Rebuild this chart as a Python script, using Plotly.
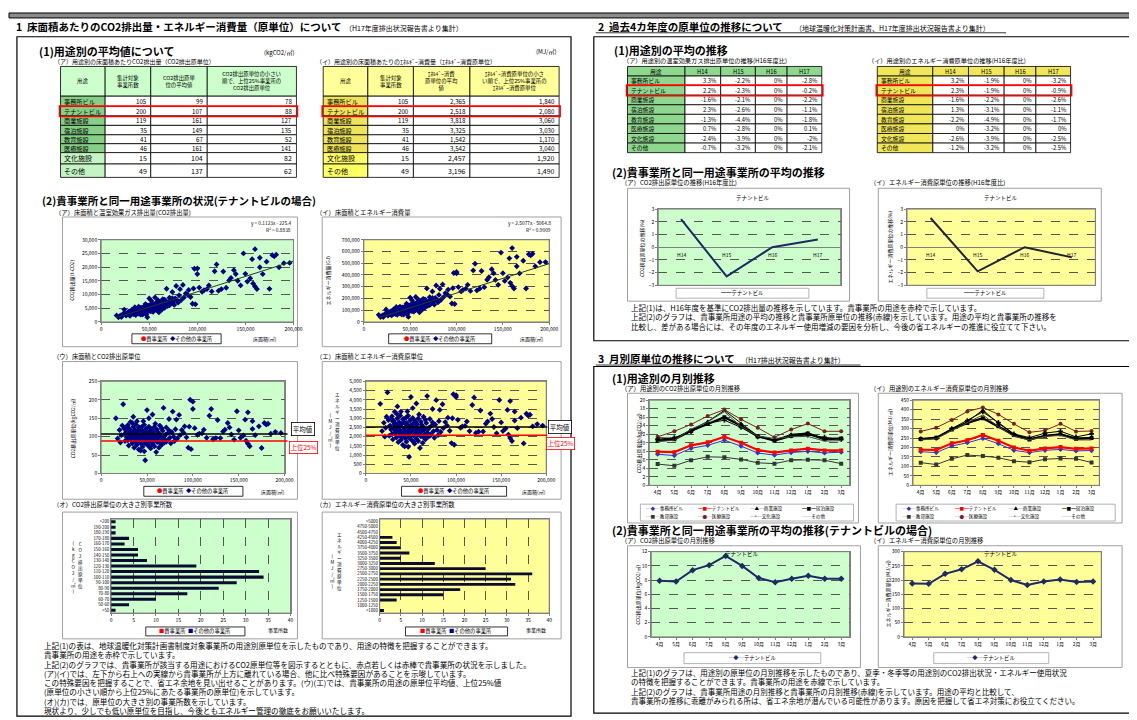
import plotly.graph_objects as go

W, H = 1137, 720
JP = "Noto Sans CJK JP"
GREEN_BG = "#ccffcc"
YELLOW_BG = "#ffff99"
NAVY = "#000080"
BAR = "#0b0b30"

# ---------------- data ----------------
USES = ["事務所ビル", "テナントビル", "商業施設", "宿泊施設", "教育施設", "医療施設", "文化施設", "その他"]
SITE_COUNTS = [105, 200, 119, 35, 41, 46, 15, 49]
CO2_UNIT_AVG = [99, 107, 161, 149, 67, 161, 104, 137]
CO2_UNIT_TOP25 = [78, 88, 127, 135, 52, 141, 82, 62]
EN_UNIT_AVG = [2365, 2518, 3818, 3325, 1542, 3542, 2457, 3196]
EN_UNIT_TOP25 = [1840, 2080, 3060, 3030, 1170, 3040, 1920, 1490]
TENANT = 1

YEARS = ["H14", "H15", "H16", "H17"]
CO2_TREND_TABLE = [[3.3, -2.2, 0, -2.8], [2.2, -2.3, 0, -0.2], [-1.6, -2.1, 0, -2.2], [2.3, -2.6, 0, -1.1],
                   [-1.3, -4.4, 0, -1.8], [0.7, -2.8, 0, 0.1], [-2.4, -3.9, 0, -2], [-0.7, -3.2, 0, -2.1]]
EN_TREND_TABLE = [[3.2, -1.9, 0, -3.2], [2.3, -1.9, 0, -0.9], [-1.6, -2.2, 0, -2.6], [1.3, -3.1, 0, -1.1],
                  [-2.2, -4.9, 0, -1.7], [0, -3.2, 0, 0], [-2.6, -3.9, 0, -2.5], [-1.2, -3.2, 0, -2.5]]
TENANT_CO2_TREND = [2.2, -2.3, 0.0, 0.6]
TENANT_EN_TREND = [2.3, -1.9, 0.0, -0.8]

# tenant buildings: floor area (thousand m2), CO2 unit (kgCO2/m2), energy unit (MJ/m2)
AREA_K = [16, 18, 20, 22, 24, 25, 26, 27, 28, 29, 30, 30, 31, 32, 32, 33, 34, 34, 35, 35,
          36, 36, 37, 37, 38, 38, 39, 39, 40, 40, 41, 41, 42, 42, 43, 43, 44, 44, 45, 45,
          46, 46, 47, 47, 48, 48, 49, 49, 50, 50, 51, 51, 52, 52, 53, 53, 54, 54, 55, 55,
          56, 56, 57, 57, 58, 58, 59, 60, 60, 61, 61, 62, 63, 63, 64, 65, 65, 66, 67, 68,
          68, 69, 70, 71, 72, 73, 74, 75, 76, 77, 78, 79, 80, 81, 82, 83, 85, 86, 88, 90,
          91, 93, 95, 96, 97, 98, 100, 100, 102, 105, 107, 110, 112, 115, 118, 120, 122, 125, 127, 130,
          133, 135, 138, 140, 142, 145, 148, 150, 152, 155, 157, 158, 160, 160, 162, 165, 165, 168, 172, 175,
          178, 180, 182, 185, 190, 196, 21, 23, 26, 28, 29, 31, 33, 34, 36, 38, 39, 40, 42, 44,
          45, 47, 48, 50, 52, 53, 55, 57, 59, 62, 64, 66, 69, 71, 74, 35, 43, 58, 46, 32]
CO2_UNIT = [150, 95, 118, 104, 188, 122, 88, 112, 98, 131, 76, 120, 105, 92, 140, 115, 82, 100, 127, 110,
            70, 95, 118, 86, 108, 133, 78, 99, 114, 92, 124, 65, 103, 88, 117, 96, 80, 107, 128, 72,
            98, 112, 90, 60, 36, 104, 121, 84, 95, 172, 109, 76, 100, 150, 87, 115, 68, 122, 93, 106,
            80, 160, 99, 113, 74, 126, 91, 102, 58, 85, 119, 96, 108, 70, 130, 89, 101, 78, 116, 94,
            178, 84, 105, 125, 90, 110, 148, 97, 82, 112, 168, 100, 88, 120, 146, 95, 159, 104, 118, 110,
            128, 98, 70, 127, 200, 66, 195, 175, 123, 105, 108, 109, 119, 97, 157, 175, 93, 96, 145, 96,
            114, 119, 137, 125, 106, 92, 169, 117, 97, 103, 146, 89, 166, 81, 74, 142, 121, 104, 128, 69,
            137, 133, 135, 108, 113, 110, 84, 130, 108, 126, 90, 121, 96, 137, 103, 92, 142, 85, 125, 94,
            116, 132, 81, 111, 127, 73, 118, 88, 135, 111, 83, 123, 101, 86, 117, 154, 62, 103, 142, 112]
EN_UNIT = [3780, 2300, 2750, 2480, 4400, 2900, 2050, 2600, 2380, 3100, 1850, 2820, 2450, 2150, 3350, 2700, 1950, 2330, 3000, 2600,
           1700, 2250, 2780, 2050, 2550, 3150, 1820, 2300, 2700, 2180, 2950, 1550, 2400, 2080, 2760, 2250, 1900, 2520, 3050, 1720,
           2300, 2650, 2120, 1450, 900, 2450, 2870, 1980, 2230, 4150, 2580, 1800, 2360, 3550, 2060, 2720, 1620, 2880, 2200, 2500,
           1900, 3800, 2340, 2670, 1760, 2980, 2150, 2410, 1380, 2010, 2810, 2270, 2560, 1660, 3080, 2100, 2390, 1850, 2740, 2220,
           4200, 1990, 2480, 2960, 2130, 2600, 3500, 2290, 1940, 2650, 3980, 2360, 2080, 2840, 3450, 2250, 3760, 2460, 2790, 2600,
           3030, 2320, 1650, 3000, 4300, 1560, 4250, 4150, 2910, 2480, 2550, 2580, 2820, 2300, 3720, 4130, 2200, 2270, 3420, 2280,
           2700, 2820, 3250, 2960, 2520, 2180, 3990, 2770, 2300, 2440, 3450, 2110, 3930, 1920, 1760, 3360, 2870, 2460, 3030, 1630,
           3240, 3150, 3190, 2560, 2680, 2600, 2000, 3080, 2560, 2990, 2140, 2860, 2280, 3250, 2440, 2180, 3360, 2010, 2960, 2230,
           2750, 3130, 1920, 2630, 3010, 1730, 2790, 2080, 3200, 2630, 1970, 2910, 2400, 2040, 2770, 3640, 1470, 2430, 3370, 2650]
TREND_CO2 = (0.1123, -225.4)
TREND_EN = (2.5077, -5064.8)

CO2_BINS = [">200", "190-200", "180-190", "170-180", "160-170", "150-160", "140-150", "130-140", "120-130",
            "110-120", "100-110", "90-100", "80-90", "70-80", "60-70", "50-60", "<50"]
CO2_COUNTS = [1, 1, 1, 4, 3, 6, 6, 8, 19, 33, 34, 28, 24, 17, 10, 4, 1]
EN_BINS = [">5000", "4750-5000", "4500-4750", "4250-4500", "4000-4250", "3750-4000", "3500-3750", "3250-3500",
           "3000-3250", "2750-3000", "2500-2750", "2250-2500", "2000-2250", "1750-2000", "1500-1750",
           "1250-1500", "1000-1250", "<1000"]
EN_COUNTS = [0, 0, 0, 3, 4, 5, 7, 5, 13, 25, 36, 31, 32, 19, 15, 4, 0, 1]

MONTHS = ["4月", "5月", "6月", "7月", "8月", "9月", "10月", "11月", "12月", "1月", "2月", "3月"]
CO2_MONTHLY = {
    "事務所ビル": [7.3, 7.0, 8.7, 9.4, 10.6, 9.2, 7.6, 7.1, 7.7, 8.0, 7.6, 7.8],
    "テナントビル": [7.9, 7.8, 9.4, 10.1, 11.4, 10.0, 8.3, 7.7, 8.2, 8.6, 8.2, 8.2],
    "商業施設": [11.2, 11.0, 13.0, 15.0, 17.6, 14.5, 11.6, 10.6, 12.0, 12.3, 11.0, 11.1],
    "宿泊施設": [10.5, 10.8, 12.8, 14.4, 16.0, 14.0, 11.5, 10.5, 11.6, 12.2, 10.8, 11.0],
    "教育施設": [5.0, 4.6, 5.9, 6.7, 6.6, 6.1, 5.3, 5.1, 5.9, 6.0, 5.9, 5.1],
    "医療施設": [11.4, 12.7, 14.3, 16.3, 17.8, 15.5, 13.5, 11.3, 13.1, 14.5, 12.7, 12.7],
    "文化施設": [10.8, 11.2, 12.6, 14.6, 15.3, 13.6, 11.4, 10.7, 11.6, 11.8, 11.3, 10.8],
    "その他": [10.3, 10.6, 13.2, 14.9, 17.3, 13.8, 11.6, 11.0, 11.4, 11.5, 10.4, 10.5],
}
EN_MONTHLY = {
    "事務所ビル": [178, 173, 208, 225, 248, 220, 185, 173, 185, 190, 182, 184],
    "テナントビル": [188, 187, 222, 238, 266, 236, 200, 183, 195, 202, 193, 195],
    "商業施設": [242, 248, 296, 336, 398, 328, 270, 246, 262, 272, 250, 252],
    "宿泊施設": [245, 252, 295, 330, 355, 312, 266, 242, 262, 270, 246, 250],
    "教育施設": [120, 110, 140, 160, 155, 146, 128, 122, 138, 142, 140, 121],
    "医療施設": [285, 305, 345, 390, 412, 375, 325, 280, 290, 325, 285, 287],
    "文化施設": [246, 250, 300, 342, 388, 332, 272, 252, 276, 286, 256, 272],
    "その他": [240, 246, 290, 330, 372, 310, 258, 240, 258, 264, 240, 240],
}
SERIES_STYLE = {
    "事務所ビル": ("#3333cc", "diamond", 1.0, "◆"),
    "テナントビル": ("#ff0000", "square", 2.2, "■"),
    "商業施設": ("#000000", "triangle-up", 1.0, "▲"),
    "宿泊施設": ("#000000", "square", 2.2, "■"),
    "教育施設": ("#333333", "square", 1.0, "■"),
    "医療施設": ("#7a1f1f", "circle", 1.0, "●"),
    "文化施設": ("#000000", "cross", 1.0, "+"),
    "その他": ("#444444", None, 1.0, ""),
}

# ---------------- helpers ----------------
ann, shp, axes, traces = [], [], {}, []


def px(x):
    return x / W


def py(y):
    return 1 - y / H


def T(x, y, text, size=7, color="black", xa="left", ya="middle", bold=False, angle=0, **kw):
    ann.append(dict(x=px(x), y=py(y), xref="paper", yref="paper",
                    text=("<b>%s</b>" % text) if bold else text, showarrow=False,
                    font=dict(family=JP, size=size, color=color), xanchor=xa, yanchor=ya,
                    textangle=angle, **kw))


def R(x0, y0, x1, y1, color="black", width=1, fill="rgba(0,0,0,0)", layer="above"):
    shp.append(dict(type="rect", xref="paper", yref="paper", x0=px(x0), x1=px(x1), y0=py(y1), y1=py(y0),
                    line=dict(color=color, width=width), fillcolor=fill, layer=layer))


def L(x0, y0, x1, y1, color="black", width=1):
    shp.append(dict(type="line", xref="paper", yref="paper", x0=px(x0), x1=px(x1), y0=py(y0), y1=py(y1),
                    line=dict(color=color, width=width)))


def stack(x, y, text, size=5):
    T(x, y, "<br>".join(list(text)), size=size, xa="center")


def names(i):
    return ("x" if i == 1 else "x%d" % i), ("y" if i == 1 else "y%d" % i)


def make_axes(i, frame, box, bg, xopt, yopt):
    R(*frame, color="#a0a0a0", width=1, fill="white", layer="below")
    x0, y0, x1, y1 = box
    R(x0, y0, x1, y1, color="#808080", width=1, fill=bg, layer="below")
    xn, yn = names(i)
    base = dict(showline=True, mirror=True, linecolor="#808080", linewidth=1, ticks="outside", ticklen=2,
                tickcolor="#808080", tickfont=dict(family=JP, size=5, color="black"), zeroline=False,
                showgrid=False, fixedrange=True)
    xa = dict(base)
    xa.update(domain=[px(x0), px(x1)], anchor=yn)
    xa.update(xopt)
    ya = dict(base)
    ya.update(domain=[py(y1), py(y0)], anchor=xn)
    ya.update(yopt)
    axes["xaxis" if i == 1 else "xaxis%d" % i] = xa
    axes["yaxis" if i == 1 else "yaxis%d" % i] = ya


GRID = dict(showgrid=True, gridcolor="#555555", griddash="dash", gridwidth=0.6)


def table(xe, ye, rows, fills, aligns, sizes):
    for r in range(len(rows)):
        for c in range(len(xe) - 1):
            R(xe[c], ye[r], xe[c + 1], ye[r + 1], color="black", width=0.8, fill=fills[r][c])
            al = aligns[r][c]
            if al == "right":
                x, xa = xe[c + 1] - 2, "right"
            elif al == "left":
                x, xa = xe[c] + 1.5, "left"
            else:
                x, xa = (xe[c] + xe[c + 1]) / 2, "center"
            T(x, (ye[r] + ye[r + 1]) / 2, rows[r][c], size=sizes[r], xa=xa)


LEG_SCATTER = '<span style="color:#ff0000">●</span>貴事業所  <span style="color:#000080">◆</span>その他の事業所'
LEG_BAR = '<span style="color:#ff0000">■</span>貴事業所  <span style="color:#000080">■</span>その他の事業所'

# ---------------- page frame ----------------
R(0, 1, 1137, 6, color="black", width=1, fill="#8c8c8c")
T(5, 15, "1  床面積あたりのCO2排出量・エネルギー消費量（原単位）について", size=10.5, bold=True)
T(337, 16, "（H17年度排出状況報告書より集計）", size=7)
R(8, 25, 567, 711, color="black", width=1.2)
T(592, 15, "2  過去4カ年度の原単位の推移について", size=10.5, bold=True)
T(791, 16, "（地球温暖化対策計画書、H17年度排出状況報告書より集計）", size=7)
L(592, 21, 1006, 21, width=0.8)
R(590, 25, 1140, 332, color="black", width=1.2)
T(592, 350, "3  月別原単位の推移について", size=10.5, bold=True)
T(736, 351, "（H17排出状況報告書より集計）", size=7)
L(592, 356.5, 859, 356.5, width=0.8)
R(590, 358, 1140, 708, color="black", width=1.2)

# ---------------- section 1 (1) tables ----------------
T(28, 39, "(1)用途別の平均値について", size=11, bold=True)
T(290, 41, "(kgCO2/㎡)", size=6, xa="right")
T(555, 40, "(MJ/㎡)", size=6, xa="right")
T(43, 49.5, "（ア）用途別の床面積あたりCO2排出量（CO2排出原単位）", size=6)
T(308, 49.5, "（イ）用途別の床面積あたりのｴﾈﾙｷﾞｰ消費量（ｴﾈﾙｷﾞｰ消費原単位）", size=6)

YE1 = [55, 85, 95.5, 105, 114.5, 124, 133, 142, 153.5, 167]
rows1 = [["用途", "集計対象<br>事業所数", "CO2排出原単<br>位の平均値", "CO2排出原単位の小さい<br>順で、上位25%事業所の<br>CO2排出原単位"]]
rows2 = [["用途", "集計対象<br>事業所数", "ｴﾈﾙｷﾞｰ消費<br>原単位の平均<br>値", "ｴﾈﾙｷﾞｰ消費原単位の小さ<br>い順で、上位25%事業所の<br>ｴﾈﾙｷﾞｰ消費原単位"]]
for k in range(len(USES)):
    rows1.append([USES[k], str(SITE_COUNTS[k]), str(CO2_UNIT_AVG[k]), str(CO2_UNIT_TOP25[k])])
    rows2.append([USES[k], str(SITE_COUNTS[k]), "{:,}".format(EN_UNIT_AVG[k]), "{:,}".format(EN_UNIT_TOP25[k])])
fills1 = [[GREEN_BG] * 4] + [[("#86d086" if k < 6 else "#c4f4c4"), "white", "white", "white"] for k in range(8)]
fills2 = [[YELLOW_BG] * 4] + [[("#eee35a" if k < 6 else "#ffff66"), "white", "white", "white"] for k in range(8)]
al = [["center"] * 4] + [["left", "right", "right", "right"] for _ in range(8)]
sz = [5.4] + [6.2] * 6 + [7, 7]
table([52, 97, 143, 200, 290], YE1, rows1, fills1, al, sz)
table([317, 362, 408, 465, 555], YE1, rows2, fills2, al, sz)
R(51, YE1[TENANT + 1] - 0.5, 291, YE1[TENANT + 2] + 0.5, color="red", width=1.6)
R(316, YE1[TENANT + 1] - 0.5, 556, YE1[TENANT + 2] + 0.5, color="red", width=1.6)

# ---------------- section 1 (2) charts ----------------
T(31, 190, "(2)貴事業所と同一用途事業所の状況(テナントビルの場合)", size=10.5, bold=True)
T(44, 202, "（ア）床面積と温室効果ガス排出量(CO2排出量)", size=6.3)
T(308, 202, "（イ）床面積とエネルギー消費量", size=6.3)

area = [a * 1000 for a in AREA_K]
co2 = [a * u / 1000 for a, u in zip(area, CO2_UNIT)]
energy = [a * u / 1000 for a, u in zip(area, EN_UNIT)]
xline = [min(area), 200000]

AREA_X = dict(range=[0, 200000], dtick=50000, tickformat=",d")

# chart 1
make_axes(1, (54, 207, 291, 338), (93, 230, 287, 313), GREEN_BG, AREA_X,
          dict(range=[0, 30000], dtick=5000, tickformat=",d", **GRID))
traces.append(go.Scatter(x=area, y=co2, mode="markers", xaxis="x", yaxis="y",
                         marker=dict(symbol="diamond", size=4.5, color=NAVY)))
traces.append(go.Scatter(x=xline, y=[TREND_CO2[0] * v + TREND_CO2[1] for v in xline], mode="lines",
                         xaxis="x", yaxis="y", line=dict(color="#1e3d1e", width=1)))
T(287, 213, "y = %.4fx - %.1f" % (TREND_CO2[0], -TREND_CO2[1]), size=4.8, xa="right")
T(287, 220, "R² = 0.8838", size=4.8, xa="right")
T(64, 271, "CO2排出量(t-CO2)", size=5, angle=-90, xa="center")
R(124, 325, 214, 335, color="black", width=0.8, fill="white")
T(169, 330, LEG_SCATTER, size=5.3, xa="center")
T(258, 330, "床面積(㎡)", size=5, xa="center")

# chart 2
make_axes(2, (316, 207, 557, 338), (358, 230, 545, 313), YELLOW_BG, AREA_X,
          dict(range=[0, 700000], dtick=100000, tickformat=",d", **GRID))
traces.append(go.Scatter(x=area, y=energy, mode="markers", xaxis="x2", yaxis="y2",
                         marker=dict(symbol="diamond", size=4.5, color=NAVY)))
traces.append(go.Scatter(x=xline, y=[TREND_EN[0] * v + TREND_EN[1] for v in xline], mode="lines",
                         xaxis="x2", yaxis="y2", line=dict(color="#1e3d1e", width=1)))
T(549, 213, "y = %.4fx - %.1f" % (TREND_EN[0], -TREND_EN[1]), size=4.8, xa="right")
T(549, 220, "R² = 0.9009", size=4.8, xa="right")
T(322, 271, "エネルギー消費量(GJ)", size=5, angle=-90, xa="center")
R(383, 325, 487, 335, color="black", width=0.8, fill="white")
T(435, 330, LEG_SCATTER, size=5.3, xa="center")
T(528, 330, "床面積(㎡)", size=5, xa="center")

# chart 3
T(42, 348, "（ウ）床面積とCO2排出原単位", size=6.3)
make_axes(3, (54, 353, 291, 492), (93, 373, 278, 466), GREEN_BG, AREA_X,
          dict(range=[0, 250], dtick=50, **GRID))
traces.append(go.Scatter(x=area, y=CO2_UNIT, mode="markers", xaxis="x3", yaxis="y3",
                         marker=dict(symbol="diamond", size=4.5, color=NAVY)))
shp.append(dict(type="line", xref="paper", yref="y3", x0=px(93), x1=px(281), y0=CO2_UNIT_AVG[TENANT],
                y1=CO2_UNIT_AVG[TENANT], line=dict(color="black", width=1.5)))
shp.append(dict(type="line", xref="paper", yref="y3", x0=px(93), x1=px(281), y0=CO2_UNIT_TOP25[TENANT],
                y1=CO2_UNIT_TOP25[TENANT], line=dict(color="red", width=1.5)))
T(297, 421, "平均値", size=6.5, xa="center", bordercolor="black", borderwidth=0.8, bgcolor="white", borderpad=1)
T(297, 440, "上位25%", size=6.3, color="red", xa="center", bordercolor="red", borderwidth=0.8, bgcolor="white", borderpad=1)
T(64, 420, "CO2排出原単位(kgCO2/㎡)", size=5, angle=-90, xa="center")
R(136, 479, 236, 489, color="black", width=0.8, fill="white")
T(186, 484, LEG_SCATTER, size=5.3, xa="center")
T(266, 485, "床面積(㎡)", size=5, xa="center")

# chart 4
T(308, 348, "（エ）床面積とエネルギー消費原単位", size=6.3)
make_axes(4, (316, 353, 557, 492), (360, 373, 542, 466), YELLOW_BG, AREA_X,
          dict(range=[0, 5000], dtick=500, tickformat=",d", **GRID))
traces.append(go.Scatter(x=area, y=EN_UNIT, mode="markers", xaxis="x4", yaxis="y4",
                         marker=dict(symbol="diamond", size=4.5, color=NAVY)))
shp.append(dict(type="line", xref="paper", yref="y4", x0=px(360), x1=px(543), y0=EN_UNIT_AVG[TENANT],
                y1=EN_UNIT_AVG[TENANT], line=dict(color="black", width=1.5)))
shp.append(dict(type="line", xref="paper", yref="y4", x0=px(360), x1=px(543), y0=EN_UNIT_TOP25[TENANT],
                y1=EN_UNIT_TOP25[TENANT], line=dict(color="red", width=1.5)))
T(556, 419, "平均値", size=6.5, xa="center", bordercolor="black", borderwidth=0.8, bgcolor="white", borderpad=1)
T(556, 436, "上位25%", size=6.3, color="red", xa="center", bordercolor="red", borderwidth=0.8, bgcolor="white", borderpad=1)
stack(331, 413, "エネルギー消費原単位", size=4.6)
stack(324, 422, "(MJ/㎡)", size=4.6)
R(396, 479, 502, 489, color="black", width=0.8, fill="white")
T(449, 484, LEG_SCATTER, size=5.3, xa="center")
T(530, 485, "床面積(㎡)", size=5, xa="center")

# chart 5 (histogram CO2)
T(42, 497, "（オ）CO2排出原単位の大きさ別事業所数", size=6.3)
make_axes(5, (54, 505, 291, 633), (103, 512, 284, 607), GREEN_BG,
          dict(range=[0, 40], dtick=5, **GRID),
          dict(type="category", categoryorder="array", categoryarray=CO2_BINS, autorange="reversed",
               tickfont=dict(family=JP, size=4.3, color="black"), ticks=""))
traces.append(go.Bar(y=CO2_BINS, x=CO2_COUNTS, orientation="h", xaxis="x5", yaxis="y5",
                     marker=dict(color=BAR, line=dict(width=0)), width=0.55))
stack(72, 558, "CO2排出原単位", size=4.6)
stack(65, 560, "(kgCO2/㎡)", size=4.6)
R(138, 621, 238, 630, color="black", width=0.8, fill="white")
T(188, 625.5, LEG_BAR, size=5.3, xa="center")
T(271, 624, "事業所数", size=5, xa="center")

# chart 6 (histogram energy)
T(308, 497, "（カ）エネルギー消費原単位の大きさ別事業所数", size=6.3)
make_axes(6, (316, 505, 557, 633), (374, 512, 545, 607), YELLOW_BG,
          dict(range=[0, 40], dtick=5, **GRID),
          dict(type="category", categoryorder="array", categoryarray=EN_BINS, autorange="reversed",
               tickfont=dict(family=JP, size=4.3, color="black"), ticks=""))
traces.append(go.Bar(y=EN_BINS, x=EN_COUNTS, orientation="h", xaxis="x6", yaxis="y6",
                     marker=dict(color=BAR, line=dict(width=0)), width=0.55))
stack(333, 554, "エネルギー消費原単位", size=4.6)
stack(326, 564, "(MJ/㎡)", size=4.6)
R(400, 621, 503, 630, color="black", width=0.8, fill="white")
T(451, 625.5, LEG_BAR, size=5.3, xa="center")
T(532, 624, "事業所数", size=5, xa="center")

# left explanation
LEFT_TEXT = [
    "上記(1)の表は、地球温暖化対策計画書制度対象事業所の用途別原単位を示したものであり、用途の特徴を把握することができます。",
    "貴事業所の用途を赤枠で示しています。",
    "上記(2)のグラフでは、貴事業所が該当する用途におけるCO2原単位等を図示するとともに、赤点若しくは赤棒で貴事業所の状況を示しました。",
    "(ア)(イ)では、左下から右上への実線から貴事業所が上方に離れている場合、他に比べ特殊要因があることを示唆しています。",
    "この特殊要因を把握することで、省エネ余地を見い出せることがあります。(ウ)(エ)では、貴事業所の用途の原単位平均値、上位25%値",
    "(原単位の小さい順から上位25%にあたる事業所の原単位)を示しています。",
    "(オ)(カ)では、原単位の大きさ別の事業所数を示しています。",
    "現状より、少しでも低い原単位を目指し、今後ともエネルギー管理の徹底をお願いいたします。",
]
for k, line in enumerate(LEFT_TEXT):
    T(33, 640 + k * 9.3, line, size=7.6)

# ---------------- section 2 ----------------
T(608, 38, "(1)用途別の平均の推移", size=11, bold=True)
T(617, 49, "（ア）用途別の温室効果ガス排出原単位の推移(H16年度比)", size=6.2)
T(865, 49, "（イ）用途別のエネルギー消費原単位の推移(H16年度比)", size=6.2)
YE2 = [55 + 9.67 * k for k in range(10)]


def pct(v):
    return "{:g}%".format(v)


rowsA = [["用途"] + YEARS] + [[USES[k]] + [pct(v) for v in CO2_TREND_TABLE[k]] for k in range(8)]
rowsB = [["用途"] + YEARS] + [[USES[k]] + [pct(v) for v in EN_TREND_TABLE[k]] for k in range(8)]
fillsA = [["#8fd68f"] * 5] + [["#8fd68f"] + ["white"] * 4 for _ in range(8)]
fillsB = [["#f0e65a"] * 5] + [["#f0e65a"] + ["white"] * 4 for _ in range(8)]
alB = [["center"] * 5] + [["left"] + ["right"] * 4 for _ in range(8)]
szB = [5.8] * 9
table([624, 682, 718, 753, 785, 820], YE2, rowsA, fillsA, alB, szB)
table([876, 932, 968, 1004, 1036, 1071], YE2, rowsB, fillsB, alB, szB)
R(623, YE2[TENANT + 1] - 0.5, 821, YE2[TENANT + 2] + 0.5, color="red", width=1.6)
R(875, YE2[TENANT + 1] - 0.5, 1072, YE2[TENANT + 2] + 0.5, color="red", width=1.6)

T(606, 162, "(2)貴事業所と同一用途事業所の平均の推移", size=11, bold=True)
T(615, 172, "（ア）CO2排出原単位の推移(H16年度比)", size=6.3)
T(867, 172, "（イ）エネルギー消費原単位の推移(H16年度比)", size=6.3)

TREND_Y = dict(range=[-3, 3], dtick=1, zeroline=True, zerolinecolor="#808080", zerolinewidth=1, **GRID)
TREND_X = dict(type="category", range=[-0.5, 3.5], showticklabels=False, ticks="")
make_axes(7, (624, 178, 848, 292), (655, 199, 839, 276), GREEN_BG, TREND_X, TREND_Y)
traces.append(go.Scatter(x=YEARS, y=TENANT_CO2_TREND, mode="lines", xaxis="x7", yaxis="y7",
                         line=dict(color="#1c2a66", width=2)))
make_axes(8, (877, 178, 1102, 292), (906, 199, 1096, 276), YELLOW_BG, TREND_X, TREND_Y)
traces.append(go.Scatter(x=YEARS, y=TENANT_EN_TREND, mode="lines", xaxis="x8", yaxis="y8",
                         line=dict(color="#222233", width=2)))
for i in (7, 8):
    for yr in YEARS:
        ann.append(dict(x=yr, y=-0.55, xref="x%d" % i, yref="y%d" % i, text=yr, showarrow=False,
                        font=dict(family=JP, size=5, color="black"), xanchor="center", yanchor="middle"))
T(751, 188, "テナントビル", size=5.5, xa="center")
T(1001, 188, "テナントビル", size=5.5, xa="center")
T(638, 238, "CO2排出原単位の推移(%)", size=5, angle=-90, xa="center")
T(889, 238, "エネルギー消費原単位の推移(%)", size=5, angle=-90, xa="center")
R(673, 279, 807, 289, color="#a0a0a0", width=0.8, fill="white")
T(740, 284, '<span style="color:#1c2a66">━━</span>テナントビル', size=5.3, xa="center")
R(926, 279, 1044, 289, color="#a0a0a0", width=0.8, fill="white")
T(985, 284, '<span style="color:#1c2a66">━━</span>テナントビル', size=5.3, xa="center")

RIGHT_TEXT_2 = [
    "上記(1)は、H16年度を基準にCO2排出量の推移を示しています。貴事業所の用途を赤枠で示しています。",
    "上記(2)のグラフは、貴事業所用途の平均の推移と貴事業所原単位の推移(赤線)を示しています。用途の平均と貴事業所の推移を",
    "比較し、差がある場合には、その年度のエネルギー使用増減の要因を分析し、今後の省エネルギーの推進に役立てて下さい。",
]
for k, line in enumerate(RIGHT_TEXT_2):
    T(626, 298 + k * 9.8, line, size=7.5)

# ---------------- section 3 ----------------
T(606, 370, "(1)用途別の月別推移", size=11, bold=True)
T(615, 380, "（ア）用途別のCO2排出原単位の月別推移", size=6.3)
T(867, 380, "（イ）用途別のエネルギー消費原単位の月別推移", size=6.3)
MX = dict(type="category", range=[-0.5, 11.5])
make_axes(9, (624, 385, 857, 516), (646, 392, 848, 478), GREEN_BG, MX,
          dict(range=[0, 20], dtick=2, **GRID))
make_axes(10, (877, 385, 1123, 516), (912, 392, 1100, 478), YELLOW_BG, MX,
          dict(range=[0, 450], dtick=50, **GRID))
order = [u for u in USES if u != "テナントビル"] + ["テナントビル"]
for i, data in ((9, CO2_MONTHLY), (10, EN_MONTHLY)):
    for u in order:
        c, sym, w, _ = SERIES_STYLE[u]
        mk = dict(symbol=sym, size=4, color=c) if sym else dict(size=1, color=c)
        traces.append(go.Scatter(x=MONTHS, y=data[u], mode="lines+markers" if sym else "lines",
                                 xaxis="x%d" % i, yaxis="y%d" % i, line=dict(color=c, width=w), marker=mk))
T(635, 435, "CO2排出原単位(kgCO2/㎡)", size=5, angle=-90, xa="center")
T(889, 435, "エネルギー消費原単位(MJ/㎡)", size=5, angle=-90, xa="center")
for (bx0, bx1) in ((637, 852), (895, 1116)):
    R(bx0, 497, bx1, 514, color="#a0a0a0", width=0.8, fill="white")
    step = (bx1 - bx0 - 6) / 4
    for k, u in enumerate(USES):
        c, sym, w, g = SERIES_STYLE[u]
        r, col = divmod(k, 4)
        glyph = ("━%s━" % g) if w > 1.5 else ("─%s─" % g)
        T(bx0 + 4 + col * step, 501.5 + r * 8, '<span style="color:%s">%s</span>%s' % (c, glyph, u), size=4.6)

T(606, 523, "(2)貴事業所と同一用途事業所の平均の推移(テナントビルの場合)", size=11, bold=True)
T(615, 534, "（ア）CO2排出原単位の月別推移", size=6.3)
T(867, 534, "（イ）エネルギー消費原単位の月別推移", size=6.3)
make_axes(11, (624, 539, 859, 662), (648, 545, 848, 631), GREEN_BG, MX,
          dict(range=[0, 12], dtick=2, **GRID))
make_axes(12, (877, 539, 1123, 662), (903, 545, 1102, 631), YELLOW_BG, MX,
          dict(range=[0, 300], dtick=50, **GRID))
traces.append(go.Scatter(x=MONTHS, y=CO2_MONTHLY["テナントビル"], mode="lines+markers", xaxis="x11", yaxis="y11",
                         line=dict(color="#1c2a66", width=2), marker=dict(symbol="diamond", size=5, color="#1c2a66")))
traces.append(go.Scatter(x=MONTHS, y=EN_MONTHLY["テナントビル"], mode="lines+markers", xaxis="x12", yaxis="y12",
                         line=dict(color="#1c2a66", width=2), marker=dict(symbol="diamond", size=5, color="#1c2a66")))
T(740, 547, "テナントビル", size=5.5, xa="center")
T(1001, 547, "テナントビル", size=5.5, xa="center")
T(635, 588, "CO2排出原単位(kgCO2/㎡)", size=5, angle=-90, xa="center")
T(887, 588, "エネルギー消費原単位(MJ/㎡)", size=5, angle=-90, xa="center")
R(681, 647, 819, 658, color="#a0a0a0", width=0.8, fill="white")
T(750, 652.5, '<span style="color:#1c2a66">─◆─</span>テナントビル', size=5.3, xa="center")
R(933, 647, 1049, 658, color="#a0a0a0", width=0.8, fill="white")
T(991, 652.5, '<span style="color:#1c2a66">─◆─</span>テナントビル', size=5.3, xa="center")

RIGHT_TEXT_3 = [
    "上記(1)のグラフは、用途別の原単位の月別推移を示したものであり、夏季・冬季等の用途別のCO2排出状況・エネルギー使用状況",
    "の特徴を把握することができます。貴事業所の用途を赤線で示しています。",
    "上記(2)のグラフは、貴事業所用途の月別推移と貴事業所の月別推移(赤線)を示しています。用途の平均と比較して、",
    "貴事業所の推移に乖離がみられる所は、省エネ余地が潜んでいる可能性があります。原因を把握して省エネ対策にお役立てください。",
]
for k, line in enumerate(RIGHT_TEXT_3):
    T(626, 667 + k * 9.5, line, size=7.5)

fig = go.Figure(data=traces)
fig.update_layout(width=W, height=H, margin=dict(l=0, r=0, t=0, b=0), autosize=False,
                  paper_bgcolor="white", plot_bgcolor="rgba(0,0,0,0)", showlegend=False,
                  font=dict(family=JP, size=6, color="black"),
                  annotations=ann, shapes=shp, bargap=0.45, **axes)
fig.write_html("out.html")
